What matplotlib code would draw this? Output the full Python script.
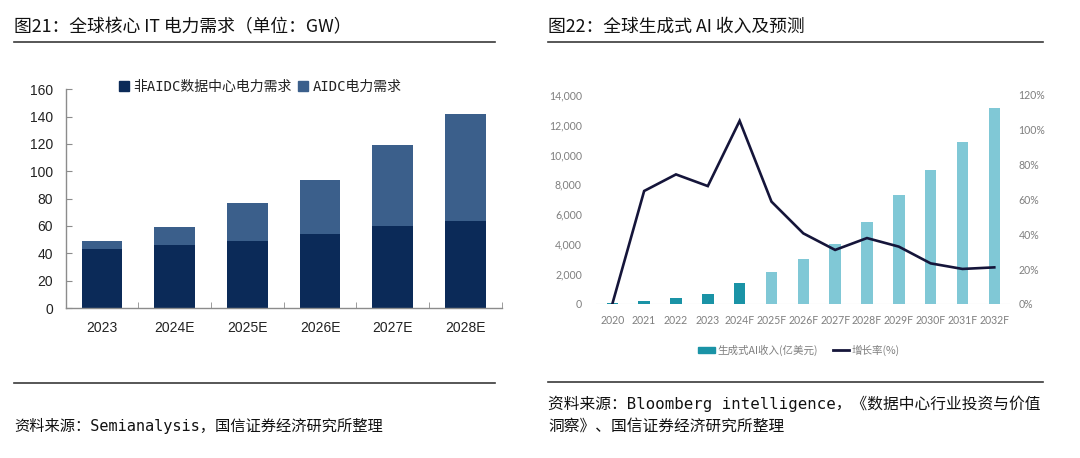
import matplotlib
matplotlib.use("Agg")
import matplotlib.pyplot as plt
from matplotlib.lines import Line2D
from matplotlib.patches import Patch
from matplotlib.ticker import FuncFormatter, FixedLocator
import numpy as np

# ---------------- data ----------------
left_years = ["2023", "2024E", "2025E", "2026E", "2027E", "2028E"]
non_aidc = [43, 46, 49, 54, 60, 64]
aidc = [6, 13, 28, 40, 59, 78]
left_yticks = [0, 20, 40, 60, 80, 100, 120, 140, 160]

right_years = ["2020", "2021", "2022", "2023", "2024F", "2025F", "2026F",
               "2027F", "2028F", "2029F", "2030F", "2031F", "2032F"]
genai_revenue = [100, 220, 420, 670, 1400, 2160, 3030, 3990, 5480, 7290, 8980, 10830, 13090]
growth_rate = [0.0, 64.8, 74.3, 67.6, 105.0, 58.7, 40.5, 31.0, 37.8, 32.9, 23.3, 20.1, 21.0]
is_forecast = [False, False, False, False, False, True, True, True, True, True, True, True, True]
right_yticks = [0, 2000, 4000, 6000, 8000, 10000, 12000, 14000]
right_pticks = [0, 20, 40, 60, 80, 100, 120]

# ---------------- figure ----------------
W, H = 1080, 458
fig = plt.figure(figsize=(W / 100, H / 100), dpi=100)
fig.patch.set_facecolor("white")

CJK = ["Noto Sans CJK SC", "DejaVu Sans"]
MONO_CJK = ["DejaVu Sans Mono", "Noto Sans CJK SC"]


def rect(x0, y0, x1, y1):
    return [x0 / W, 1 - y1 / H, (x1 - x0) / W, (y1 - y0) / H]


def hline(x0, x1, y, lw=1.2, color="#3a3a3a"):
    fig.add_artist(Line2D([x0 / W, x1 / W], [1 - y / H, 1 - y / H],
                          transform=fig.transFigure, color=color, lw=lw))


# titles and rules
fig.text(14 / W, 1 - 27 / H, "图21：全球核心 IT 电力需求（单位：GW）", family=CJK,
         fontsize=12.8, va="center", ha="left", color="#111111", weight="medium")
fig.text(548 / W, 1 - 27 / H, "图22：全球生成式 AI 收入及预测", family=CJK,
         fontsize=12.8, va="center", ha="left", color="#111111", weight="medium")
hline(14, 495, 42.3)
hline(548, 1043, 42.3)
hline(14, 495, 382.7)
hline(548, 1043, 382.3)

fig.text(14 / W, 1 - 426 / H, "资料来源：Semianalysis，国信证券经济研究所整理", family=MONO_CJK,
         fontsize=11, va="center", ha="left", color="#111111")
fig.text(548 / W, 1 - 403.5 / H, "资料来源：Bloomberg intelligence，《数据中心行业投资与价值",
         family=MONO_CJK, fontsize=11.3, va="center", ha="left", color="#111111")
fig.text(548 / W, 1 - 426 / H, "洞察》、国信证券经济研究所整理",
         family=MONO_CJK, fontsize=11.3, va="center", ha="left", color="#111111")

# ---------------- left chart ----------------
axL = fig.add_axes(rect(65.7, 89.3, 501.7, 308))
xl = np.arange(len(left_years))
c_non = "#0b2a58"
c_ai = "#3b5f8b"
axL.bar(xl, non_aidc, width=0.56, color=c_non, zorder=2)
axL.bar(xl, aidc, width=0.56, bottom=non_aidc, color=c_ai, zorder=2)
axL.set_xlim(-0.5, len(left_years) - 0.5)
axL.set_ylim(0, 160)
axL.set_yticks(left_yticks)
axL.set_xticks(xl)
axL.set_xticklabels(left_years)
axL.xaxis.set_minor_locator(FixedLocator(np.arange(-0.5, len(left_years), 1.0)))
for s in ["top", "right"]:
    axL.spines[s].set_visible(False)
for s in ["left", "bottom"]:
    axL.spines[s].set_color("#8c8c8c")
    axL.spines[s].set_linewidth(1.0)
axL.tick_params(axis="x", which="major", length=0, pad=9, labelsize=10,
                labelcolor="#222222")
axL.tick_params(axis="x", which="minor", direction="in", length=4, color="#8c8c8c")
axL.tick_params(axis="y", direction="in", length=4, color="#8c8c8c", pad=9,
                labelsize=10, labelcolor="#222222")
for lab in axL.get_xticklabels() + axL.get_yticklabels():
    lab.set_family(["Liberation Sans", "DejaVu Sans"])

legL = fig.legend(handles=[Patch(color=c_non, label="非AIDC数据中心电力需求"),
                           Patch(color=c_ai, label="AIDC电力需求")],
                  loc="center left", bbox_to_anchor=(112 / W, 1 - 87 / H), ncol=2,
                  frameon=False, handlelength=0.7, handleheight=0.7,
                  handletextpad=0.35, columnspacing=0.45, borderpad=0,
                  prop={"family": MONO_CJK, "size": 10})
for t in legL.get_texts():
    t.set_color("#222222")

# ---------------- right chart ----------------
axR = fig.add_axes(rect(596.4, 94.7, 1010.2, 304))
xr = np.arange(len(right_years))
c_dark = "#1a93a6"
c_light = "#80c8d6"
bar_colors = [c_light if f else c_dark for f in is_forecast]
axR.bar(xr, genai_revenue, width=0.36, color=bar_colors, zorder=2)
axR.axhline(0, color="#d9d9d9", lw=0.8, zorder=1)
axR.set_xlim(-0.5, len(right_years) - 0.5)
axR.set_ylim(0, 14000)
axR.set_yticks(right_yticks)
axR.yaxis.set_major_formatter(FuncFormatter(lambda v, p: f"{int(v):,}"))
axR.set_xticks(xr)
axR.set_xticklabels(right_years)
for s in axR.spines.values():
    s.set_visible(False)
axR.tick_params(axis="both", length=0, labelsize=7.6, labelcolor="#7f7f7f")
axR.tick_params(axis="y", pad=10.5)
axR.tick_params(axis="x", pad=8)

axP = axR.twinx()
axP.plot(xr, growth_rate, color="#15153a", lw=1.9, zorder=3, solid_joinstyle="miter")
axP.set_ylim(0, 120)
axP.set_yticks(right_pticks)
axP.yaxis.set_major_formatter(FuncFormatter(lambda v, p: f"{int(v)}%"))
for s in axP.spines.values():
    s.set_visible(False)
axP.tick_params(axis="y", length=0, labelsize=7.6, labelcolor="#7f7f7f", pad=6)

for lab in axR.get_xticklabels() + axR.get_yticklabels() + axP.get_yticklabels():
    lab.set_family(["Lato", "DejaVu Sans"])

legR = fig.legend(handles=[Patch(color=c_dark, label="生成式AI收入(亿美元)"),
                           Line2D([], [], color="#15153a", lw=2.0, label="增长率(%)")],
                  loc="center", bbox_to_anchor=(799 / W, 1 - 350 / H), ncol=2,
                  frameon=False, handlelength=1.6, handleheight=0.5,
                  handletextpad=0.2, columnspacing=1.4, borderpad=0,
                  prop={"family": CJK, "size": 7.6})
for t in legR.get_texts():
    t.set_color("#7f7f7f")

fig.savefig("out.png", dpi=100, facecolor="white")
